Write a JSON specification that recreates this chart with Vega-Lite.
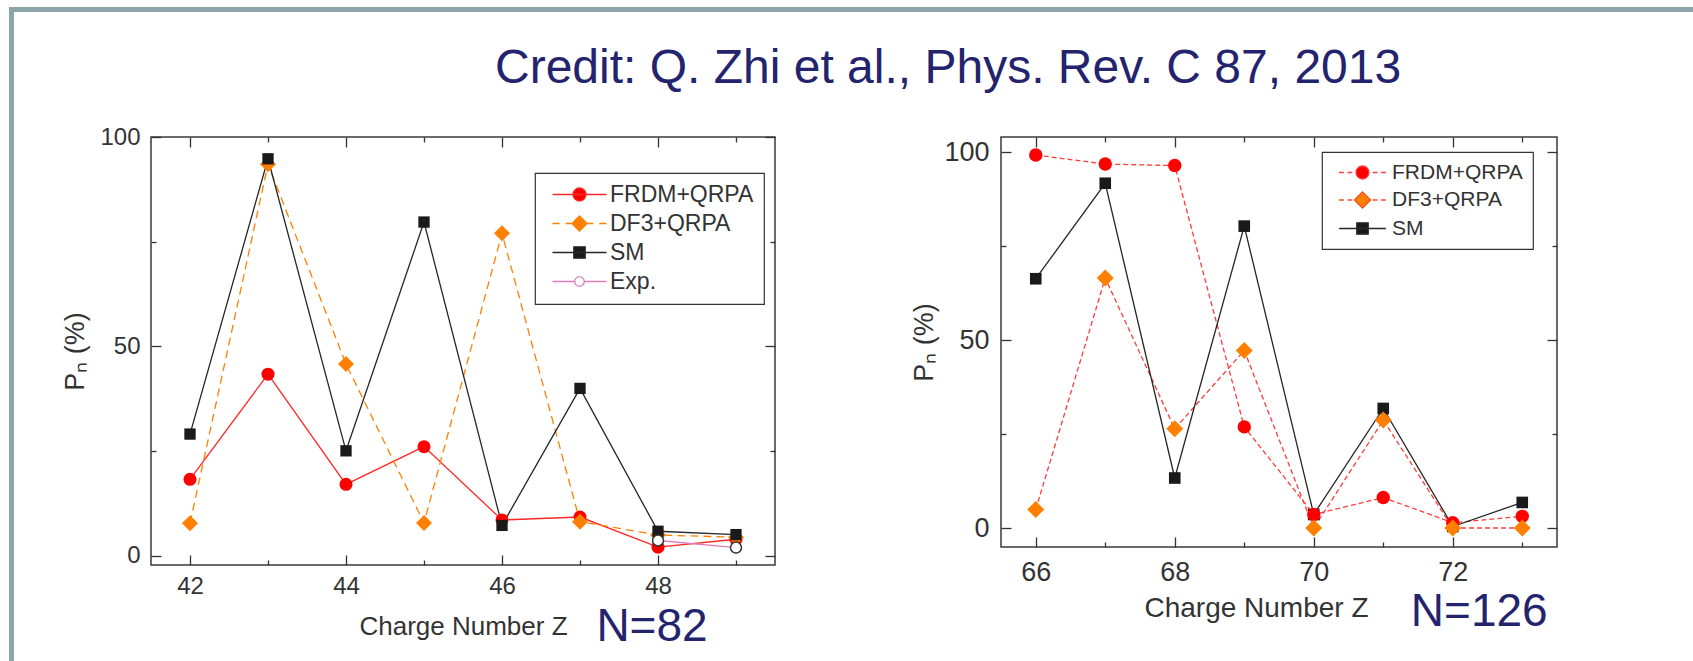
{
  "$schema": "https://vega.github.io/schema/vega-lite/v6.json",
  "background": "#ffffff",
  "padding": {"left": 9, "top": 7, "right": 0, "bottom": 0},
  "config": {
    "font": "Liberation Sans",
    "view": {"stroke": "#3a3a3a", "strokeWidth": 1.5},
    "legend": {"strokeWidth": 1.2}
  },
  "datasets": {
    "n82": [
      {"Z": 42, "Pn": 18.3, "model": "FRDM+QRPA"},
      {"Z": 43, "Pn": 43.4, "model": "FRDM+QRPA"},
      {"Z": 44, "Pn": 17.1, "model": "FRDM+QRPA"},
      {"Z": 45, "Pn": 26.1, "model": "FRDM+QRPA"},
      {"Z": 46, "Pn": 8.6, "model": "FRDM+QRPA"},
      {"Z": 47, "Pn": 9.3, "model": "FRDM+QRPA"},
      {"Z": 48, "Pn": 2.1, "model": "FRDM+QRPA"},
      {"Z": 49, "Pn": 4.0, "model": "FRDM+QRPA"},
      {"Z": 42, "Pn": 7.8, "model": "DF3+QRPA"},
      {"Z": 43, "Pn": 93.5, "model": "DF3+QRPA"},
      {"Z": 44, "Pn": 45.8, "model": "DF3+QRPA"},
      {"Z": 45, "Pn": 7.9, "model": "DF3+QRPA"},
      {"Z": 46, "Pn": 77.0, "model": "DF3+QRPA"},
      {"Z": 47, "Pn": 8.2, "model": "DF3+QRPA"},
      {"Z": 48, "Pn": 5.0, "model": "DF3+QRPA"},
      {"Z": 49, "Pn": 4.5, "model": "DF3+QRPA"},
      {"Z": 42, "Pn": 29.1, "model": "SM"},
      {"Z": 43, "Pn": 94.8, "model": "SM"},
      {"Z": 44, "Pn": 25.1, "model": "SM"},
      {"Z": 45, "Pn": 79.7, "model": "SM"},
      {"Z": 46, "Pn": 7.3, "model": "SM"},
      {"Z": 47, "Pn": 40.0, "model": "SM"},
      {"Z": 48, "Pn": 5.9, "model": "SM"},
      {"Z": 49, "Pn": 5.1, "model": "SM"},
      {"Z": 48, "Pn": 3.7, "model": "Exp."},
      {"Z": 49, "Pn": 2.0, "model": "Exp."}
    ],
    "n126": [
      {"Z": 66, "Pn": 99.2, "model": "FRDM+QRPA"},
      {"Z": 67, "Pn": 96.8, "model": "FRDM+QRPA"},
      {"Z": 68, "Pn": 96.4, "model": "FRDM+QRPA"},
      {"Z": 69, "Pn": 26.9, "model": "FRDM+QRPA"},
      {"Z": 70, "Pn": 3.6, "model": "FRDM+QRPA"},
      {"Z": 71, "Pn": 8.1, "model": "FRDM+QRPA"},
      {"Z": 72, "Pn": 1.4, "model": "FRDM+QRPA"},
      {"Z": 73, "Pn": 3.1, "model": "FRDM+QRPA"},
      {"Z": 66, "Pn": 4.9, "model": "DF3+QRPA"},
      {"Z": 67, "Pn": 66.5, "model": "DF3+QRPA"},
      {"Z": 68, "Pn": 26.4, "model": "DF3+QRPA"},
      {"Z": 69, "Pn": 47.2, "model": "DF3+QRPA"},
      {"Z": 70, "Pn": 0.0, "model": "DF3+QRPA"},
      {"Z": 71, "Pn": 28.7, "model": "DF3+QRPA"},
      {"Z": 72, "Pn": 0.0, "model": "DF3+QRPA"},
      {"Z": 73, "Pn": 0.0, "model": "DF3+QRPA"},
      {"Z": 66, "Pn": 66.3, "model": "SM"},
      {"Z": 67, "Pn": 91.7, "model": "SM"},
      {"Z": 68, "Pn": 13.3, "model": "SM"},
      {"Z": 69, "Pn": 80.3, "model": "SM"},
      {"Z": 70, "Pn": 3.6, "model": "SM"},
      {"Z": 71, "Pn": 31.8, "model": "SM"},
      {"Z": 72, "Pn": 0.4, "model": "SM"},
      {"Z": 73, "Pn": 6.8, "model": "SM"}
    ]
  },
  "spacing": 0,
  "vconcat": [
    {
      "width": 1684,
      "height": 5,
      "data": {"values": []},
      "mark": "point",
      "view": {"fill": "#8ca5a8", "stroke": null}
    },
    {
      "spacing": 47,
      "hconcat": [
        {
          "width": 5,
          "height": 649,
          "data": {"values": []},
          "mark": "point",
          "view": {"fill": "#8ca5a8", "stroke": null}
        },
        {
          "spacing": 31,
          "vconcat": [
            {
              "width": 1,
              "height": 20,
              "data": {"values": []},
              "mark": "point",
              "view": {"stroke": null},
              "title": {
                "text": "Credit: Q. Zhi et al., Phys. Rev. C 87, 2013",
                "orient": "bottom",
                "anchor": "start",
                "dx": 344,
                "offset": 13,
                "fontSize": 48,
                "fontWeight": "normal",
                "color": "#24246e",
                "baseline": "top"
              }
            },
            {
              "spacing": 133,
              "resolve": {
                "scale": {"shape": "independent", "fill": "independent", "stroke": "independent"},
                "legend": {"shape": "independent", "fill": "independent", "stroke": "independent"}
              },
              "hconcat": [
                {
                  "width": 624,
                  "height": 428,
                  "data": {"name": "n82"},
                  "title": {
                    "text": "N=82",
                    "orient": "bottom",
                    "anchor": "end",
                    "dx": -68,
                    "offset": -34,
                    "fontSize": 46,
                    "fontWeight": "normal",
                    "color": "#24246e",
                    "baseline": "top"
                  },
                  "encoding": {
                    "x": {"field": "Z", "type": "quantitative", "scale": {"domain": [41.5, 49.5], "nice": false, "zero": false}, "axis": null},
                    "y": {"field": "Pn", "type": "quantitative", "scale": {"domain": [-2.15, 100], "nice": false, "zero": false}, "axis": null}
                  },
                  "layer": [
                    {
                      "transform": [{"filter": "datum.model === 'FRDM+QRPA'"}],
                      "mark": {"type": "line", "color": "#ff2626", "strokeWidth": 1.3},
                      "encoding": {
                        "x": {
                          "field": "Z", "type": "quantitative",
                          "scale": {"domain": [41.5, 49.5], "nice": false, "zero": false},
                          "axis": {
                            "orient": "bottom", "values": [42, 43, 44, 45, 46, 47, 48, 49],
                            "labelExpr": "datum.value % 2 == 0 ? datum.label : ''",
                            "title": "Charge Number Z", "titleFontSize": 26, "titleFontWeight": "normal", "titleColor": "#333333", "titlePadding": 10,
                            "labelFontSize": 24, "labelColor": "#333333", "labelPadding": 19, "labelOverlap": false, "labelFlush": false,
                            "domain": false, "grid": false, "tickColor": "#333333", "tickWidth": 1.3,
                            "tickSize": {"condition": {"test": "datum.value % 2 == 0", "value": -10}, "value": -5}
                          }
                        },
                        "y": {
                          "field": "Pn", "type": "quantitative",
                          "scale": {"domain": [-2.15, 100], "nice": false, "zero": false},
                          "axis": {
                            "orient": "left", "values": [0, 25, 50, 75, 100],
                            "labelExpr": "datum.value % 50 == 0 ? datum.label : ''",
                            "title": "Pₙ (%)", "titleFontSize": 27, "titleFontWeight": "normal", "titleColor": "#333333", "titlePadding": 10,
                            "labelFontSize": 24, "labelColor": "#333333", "labelPadding": 21, "labelOverlap": false, "labelFlush": false,
                            "domain": false, "grid": false, "tickColor": "#333333", "tickWidth": 1.3,
                            "tickSize": {"condition": {"test": "datum.value % 50 == 0", "value": -10}, "value": -5}
                          }
                        }
                      }
                    },
                    {
                      "transform": [{"filter": "datum.model === 'DF3+QRPA'"}],
                      "mark": {"type": "line", "color": "#ff8000", "strokeWidth": 1.3, "strokeDash": [8, 5]},
                      "encoding": {}
                    },
                    {
                      "transform": [{"filter": "datum.model === 'SM'"}],
                      "mark": {"type": "line", "color": "#262626", "strokeWidth": 1.3},
                      "encoding": {}
                    },
                    {
                      "transform": [{"filter": "datum.model === 'Exp.'"}],
                      "mark": {"type": "line", "color": "#e37cbd", "strokeWidth": 1.3},
                      "encoding": {}
                    },
                    {
                      "transform": [{"filter": "datum.model === 'FRDM+QRPA'"}],
                      "mark": {"type": "point", "shape": "circle", "filled": true, "color": "#ff0000", "size": 169, "opacity": 1},
                      "encoding": {}
                    },
                    {
                      "transform": [{"filter": "datum.model === 'DF3+QRPA'"}],
                      "mark": {"type": "point", "shape": "diamond", "filled": true, "color": "#ff7f00", "size": 256, "opacity": 1},
                      "encoding": {}
                    },
                    {
                      "transform": [{"filter": "datum.model === 'SM'"}],
                      "mark": {"type": "point", "shape": "square", "filled": true, "color": "#1a1a1a", "size": 128, "opacity": 1},
                      "encoding": {}
                    },
                    {
                      "transform": [{"filter": "datum.model === 'Exp.'"}],
                      "mark": {"type": "point", "shape": "circle", "filled": false, "fill": "#ffffff", "stroke": "#333333", "strokeWidth": 1.5, "size": 121, "opacity": 1},
                      "encoding": {}
                    },
                    {
                      "transform": [{"filter": "datum.Z < 0"}],
                      "mark": {"type": "point", "filled": true},
                      "encoding": {
                        "x": {
                          "field": "Z", "type": "quantitative",
                          "scale": {"domain": [41.5, 49.5], "nice": false, "zero": false},
                          "axis": {
                            "orient": "top", "values": [42, 43, 44, 45, 46, 47, 48, 49], "labels": false, "title": null,
                            "domain": false, "grid": false, "tickColor": "#333333", "tickWidth": 1.3,
                            "tickSize": {"condition": {"test": "datum.value % 2 == 0", "value": -10}, "value": -5}
                          }
                        },
                        "y": {
                          "field": "Pn", "type": "quantitative",
                          "scale": {"domain": [-2.15, 100], "nice": false, "zero": false},
                          "axis": {
                            "orient": "right", "values": [0, 25, 50, 75, 100], "labels": false, "title": null,
                            "domain": false, "grid": false, "tickColor": "#333333", "tickWidth": 1.3,
                            "tickSize": {"condition": {"test": "datum.value % 50 == 0", "value": -10}, "value": -5}
                          }
                        },
                        "shape": {
                          "field": "model", "type": "nominal",
                          "scale": {
                            "domain": ["FRDM+QRPA", "DF3+QRPA", "SM", "Exp."],
                            "range": [
                              "M-4.5,0H4.5M1.08,0C1.08,0.6,0.6,1.08,0,1.08C-0.6,1.08,-1.08,0.6,-1.08,0C-1.08,-0.6,-0.6,-1.08,0,-1.08C0.6,-1.08,1.08,-0.6,1.08,0Z",
                              "M-4.5,0H-3.3M-2.3,0H-1.3M1.3,0H2.3M3.3,0H4.5M0,-1.25L1.25,0L0,1.25L-1.25,0Z",
                              "M-4.5,0H4.5M-0.95,-0.95H0.95V0.95H-0.95Z",
                              "M-4.5,0H-0.8M0.8,0H4.5M0.8,0C0.8,0.44,0.44,0.8,0,0.8C-0.44,0.8,-0.8,0.44,-0.8,0C-0.8,-0.44,-0.44,-0.8,0,-0.8C0.44,-0.8,0.8,-0.44,0.8,0Z"
                            ]
                          },
                          "legend": {
                            "title": null, "orient": "none", "legendX": 384, "legendY": 36,
                            "padding": 10, "strokeColor": "#333333", "fillColor": "#ffffff",
                            "symbolSize": 144, "symbolStrokeWidth": 1.3, "symbolOffset": 23, "symbolOpacity": 1,
                            "labelOffset": 19, "labelFontSize": 23, "labelColor": "#333333", "rowPadding": 5
                          }
                        },
                        "fill": {
                          "field": "model", "type": "nominal",
                          "scale": {"domain": ["FRDM+QRPA", "DF3+QRPA", "SM", "Exp."], "range": ["#ff0000", "#ff7f00", "#1a1a1a", "#ffffff"]}
                        },
                        "stroke": {
                          "field": "model", "type": "nominal",
                          "scale": {"domain": ["FRDM+QRPA", "DF3+QRPA", "SM", "Exp."], "range": ["#ff2626", "#ff8000", "#262626", "#e37cbd"]}
                        }
                      }
                    }
                  ],
                  "resolve": {"axis": {"x": "independent", "y": "independent"}}
                },
                {
                  "width": 556,
                  "height": 410,
                  "data": {"name": "n126"},
                  "title": {
                    "text": "N=126",
                    "orient": "bottom",
                    "anchor": "end",
                    "dx": -10,
                    "offset": -32,
                    "fontSize": 46,
                    "fontWeight": "normal",
                    "color": "#24246e",
                    "baseline": "top"
                  },
                  "encoding": {
                    "x": {"field": "Z", "type": "quantitative", "scale": {"domain": [65.5, 73.5], "nice": false, "zero": false}, "axis": null},
                    "y": {"field": "Pn", "type": "quantitative", "scale": {"domain": [-5.05, 104], "nice": false, "zero": false}, "axis": null}
                  },
                  "layer": [
                    {
                      "transform": [{"filter": "datum.model === 'FRDM+QRPA'"}],
                      "mark": {"type": "line", "color": "#ff3b3b", "strokeWidth": 1.3, "strokeDash": [5, 3]},
                      "encoding": {
                        "x": {
                          "field": "Z", "type": "quantitative",
                          "scale": {"domain": [65.5, 73.5], "nice": false, "zero": false},
                          "axis": {
                            "orient": "bottom", "values": [66, 67, 68, 69, 70, 71, 72, 73],
                            "labelExpr": "datum.value % 2 == 0 ? datum.label : ''",
                            "title": "Charge Number Z", "titleFontSize": 28, "titleFontWeight": "normal", "titleColor": "#333333", "titlePadding": 4, "titleX": 255,
                            "labelFontSize": 27, "labelColor": "#333333", "labelPadding": 22, "labelOverlap": false, "labelFlush": false,
                            "domain": false, "grid": false, "tickColor": "#333333", "tickWidth": 1.3,
                            "tickSize": {"condition": {"test": "datum.value % 2 == 0", "value": -10}, "value": -5}
                          }
                        },
                        "y": {
                          "field": "Pn", "type": "quantitative",
                          "scale": {"domain": [-5.05, 104], "nice": false, "zero": false},
                          "axis": {
                            "orient": "left", "values": [0, 25, 50, 75, 100],
                            "labelExpr": "datum.value % 50 == 0 ? datum.label : ''",
                            "title": "Pₙ (%)", "titleFontSize": 27, "titleFontWeight": "normal", "titleColor": "#333333", "titlePadding": 5,
                            "labelFontSize": 27, "labelColor": "#333333", "labelPadding": 22, "labelOverlap": false, "labelFlush": false,
                            "domain": false, "grid": false, "tickColor": "#333333", "tickWidth": 1.3,
                            "tickSize": {"condition": {"test": "datum.value % 50 == 0", "value": -10}, "value": -5}
                          }
                        }
                      }
                    },
                    {
                      "transform": [{"filter": "datum.model === 'DF3+QRPA'"}],
                      "mark": {"type": "line", "color": "#ff3b3b", "strokeWidth": 1.3, "strokeDash": [5, 3]},
                      "encoding": {}
                    },
                    {
                      "transform": [{"filter": "datum.model === 'SM'"}],
                      "mark": {"type": "line", "color": "#262626", "strokeWidth": 1.3},
                      "encoding": {}
                    },
                    {
                      "transform": [{"filter": "datum.model === 'SM'"}],
                      "mark": {"type": "point", "shape": "square", "filled": true, "color": "#1a1a1a", "size": 135, "opacity": 1},
                      "encoding": {}
                    },
                    {
                      "transform": [{"filter": "datum.model === 'FRDM+QRPA'"}],
                      "mark": {"type": "point", "shape": "circle", "filled": true, "color": "#ff0000", "size": 180, "opacity": 1},
                      "encoding": {}
                    },
                    {
                      "transform": [{"filter": "datum.model === 'DF3+QRPA'"}],
                      "mark": {"type": "point", "shape": "diamond", "filled": true, "color": "#ff7f00", "size": 289, "opacity": 1},
                      "encoding": {}
                    },
                    {
                      "transform": [{"filter": "datum.Z < 0"}],
                      "mark": {"type": "point", "filled": true},
                      "encoding": {
                        "x": {
                          "field": "Z", "type": "quantitative",
                          "scale": {"domain": [65.5, 73.5], "nice": false, "zero": false},
                          "axis": {
                            "orient": "top", "values": [66, 67, 68, 69, 70, 71, 72, 73], "labels": false, "title": null,
                            "domain": false, "grid": false, "tickColor": "#333333", "tickWidth": 1.3,
                            "tickSize": {"condition": {"test": "datum.value % 2 == 0", "value": -10}, "value": -5}
                          }
                        },
                        "y": {
                          "field": "Pn", "type": "quantitative",
                          "scale": {"domain": [-5.05, 104], "nice": false, "zero": false},
                          "axis": {
                            "orient": "right", "values": [0, 25, 50, 75, 100], "labels": false, "title": null,
                            "domain": false, "grid": false, "tickColor": "#333333", "tickWidth": 1.3,
                            "tickSize": {"condition": {"test": "datum.value % 50 == 0", "value": -10}, "value": -5}
                          }
                        },
                        "shape": {
                          "field": "model", "type": "nominal",
                          "scale": {
                            "domain": ["FRDM+QRPA", "DF3+QRPA", "SM"],
                            "range": [
                              "M-3.9,0H-3.1M-2.5,0H-1.7M1.7,0H2.5M3.1,0H3.9M1.08,0C1.08,0.6,0.6,1.08,0,1.08C-0.6,1.08,-1.08,0.6,-1.08,0C-1.08,-0.6,-0.6,-1.08,0,-1.08C0.6,-1.08,1.08,-0.6,1.08,0Z",
                              "M-3.9,0H-3.1M-2.5,0H-1.7M1.7,0H2.5M3.1,0H3.9M0,-1.35L1.35,0L0,1.35L-1.35,0Z",
                              "M-3.9,0H3.9M-0.95,-0.95H0.95V0.95H-0.95Z"
                            ]
                          },
                          "legend": {
                            "title": null, "orient": "none", "legendX": 321, "legendY": 15,
                            "padding": 10, "strokeColor": "#333333", "fillColor": "#ffffff",
                            "symbolSize": 144, "symbolStrokeWidth": 1.3, "symbolOffset": 20, "symbolOpacity": 1,
                            "labelOffset": 19, "labelFontSize": 21, "labelColor": "#333333", "rowPadding": 5.5
                          }
                        },
                        "fill": {
                          "field": "model", "type": "nominal",
                          "scale": {"domain": ["FRDM+QRPA", "DF3+QRPA", "SM"], "range": ["#ff0000", "#ff7f00", "#1a1a1a"]}
                        },
                        "stroke": {
                          "field": "model", "type": "nominal",
                          "scale": {"domain": ["FRDM+QRPA", "DF3+QRPA", "SM"], "range": ["#ff3b3b", "#ff4a20", "#262626"]}
                        }
                      }
                    }
                  ],
                  "resolve": {"axis": {"x": "independent", "y": "independent"}}
                }
              ]
            }
          ]
        }
      ]
    }
  ]
}
